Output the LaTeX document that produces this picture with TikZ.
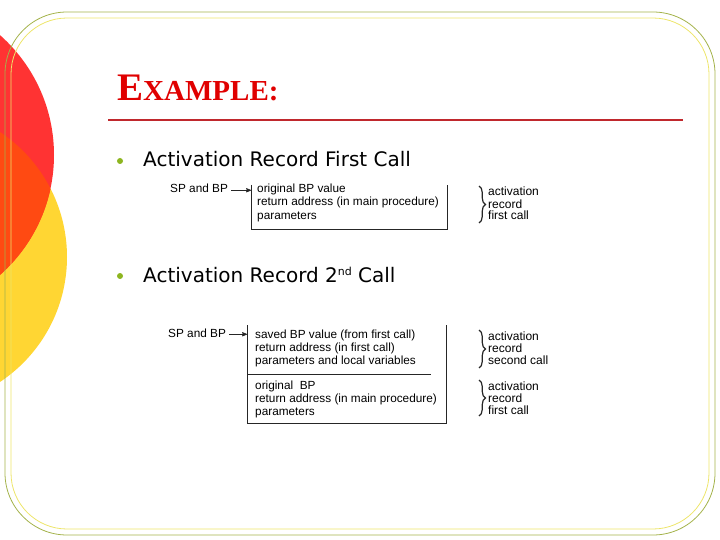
\documentclass[tikz,border=0pt]{standalone}
\usepackage{fontspec}
\setmainfont{DejaVu Sans}
\newfontfamily\titlefont{Liberation Serif}
\newfontfamily\figfont{Liberation Sans}
\usetikzlibrary{arrows,positioning,decorations.pathreplacing}

\definecolor{discred}{HTML}{FF3333}
\definecolor{discyellow}{HTML}{FFD633}
\definecolor{discorange}{HTML}{FF4A12}
\definecolor{titlered}{HTML}{E00000}
\definecolor{rulered}{HTML}{C0282D}
\definecolor{framegreen}{HTML}{A3B24A}
\definecolor{frameyellow}{HTML}{EDE56A}
\definecolor{bulletgreen}{HTML}{8DB520}

\begin{document}
\begin{tikzpicture}[x=1pt,y=-1pt,>=stealth',auto,
  bullet/.style={circle,fill=bulletgreen,inner sep=0pt,minimum size=6pt},
  item/.style={anchor=base west,inner sep=0pt,font=\fontsize{20}{24}\selectfont},
  stackline/.style={anchor=base west,inner sep=0pt,font=\figfont\fontsize{11.8}{13}\selectfont},
  reclabel/.style={anchor=base west,inner sep=0pt,font=\figfont\fontsize{12}{13}\selectfont},
  recbox/.style={line width=0.8pt,black!85},
  recbrace/.style={decorate,decoration={brace,amplitude=6.5pt},line width=1.2pt,black!85}]
  \useasboundingbox (0,0) rectangle (720,540);
  \clip (0,0) rectangle (720,540);

  % discs on the left
  \fill[discyellow] (-83,257) circle (150);
  \fill[discred] (-106,155) circle (160);
  \begin{scope}
    \clip (-83,257) circle (150);
    \fill[discorange] (-106,155) circle (160);
  \end{scope}

  % frame
  \draw[framegreen,line width=0.8pt,rounded corners=62] (5,12) rectangle (715,535);
  \draw[frameyellow,line width=0.8pt,rounded corners=56] (11,18) rectangle (709,529);

  % title
  \node[anchor=base west,inner sep=0pt,text=titlered] (title) at (117,101)
    {\titlefont\bfseries\fontsize{39}{40}\selectfont E\fontsize{29}{30}\selectfont XAMPLE:};
  \draw[rulered,line width=2pt] (108,120) -- (683,120);

  % bullets
  \node[bullet] (b1) at (120,161) {};
  \node[item] (i1) at (143,167) {Activation Record First Call};
  \node[bullet] (b2) at (120,276) {};
  \node[item] (i2) at (143,282) {Activation Record 2\raisebox{7pt}{\fontsize{11}{12}\selectfont nd} Call};

  % first call
  \coordinate (f1tl) at (251,185);
  \coordinate (f1bl) at (251,229);
  \coordinate (f1br) at (447,229);
  \coordinate (f1tr) at (447,185);
  \draw[recbox] (f1tl) -- (f1bl) -- (f1br) -- (f1tr);
  \node[stackline] (sp1) at (170,193) {SP and BP};
  \draw[->,recbox] (sp1.mid east) ++(3,0) -- (sp1.mid east -| f1tl);
  \foreach \txt [count=\i] in {original BP value,return address (in main procedure),parameters}
    \node[stackline] (f1l\i) at (257,{180+13*\i}) {\txt};
  \coordinate (f1bt) at (479,186);
  \coordinate (f1bb) at (479,223);
  \draw[recbrace] (f1bt) -- (f1bb);
  \foreach \txt [count=\i] in {activation,record,first call}
    \node[reclabel] (f1r\i) at (488,{184+12*\i}) {\txt};

  % second call
  \coordinate (s2tl) at (247,325);
  \coordinate (s2bl) at (247,423);
  \coordinate (s2br) at (446,423);
  \coordinate (s2tr) at (446,325);
  \coordinate (s2sep) at (431,374);
  \draw[recbox] (s2tl) -- (s2bl) -- (s2br) -- (s2tr);
  \draw[recbox] (s2sep -| s2tl) -- (s2sep);
  \node[stackline] (sp2) at (168,337) {SP and BP};
  \draw[->,recbox] (sp2.mid east) ++(3,0) -- (sp2.mid east -| s2tl);
  \foreach \txt [count=\i] in {saved BP value (from first call),return address (in first call),parameters and local variables}
    \node[stackline] (s2l\i) at (255,{325+13*\i}) {\txt};
  \foreach \txt [count=\i] in {original\ \ BP,return address (in main procedure),parameters}
    \node[stackline] (s1l\i) at (255,{376+13*\i}) {\txt};
  \coordinate (s2bt) at (479,330);
  \coordinate (s2bb) at (479,368);
  \coordinate (s1bt) at (479,380);
  \coordinate (s1bb) at (479,416);
  \draw[recbrace] (s2bt) -- (s2bb);
  \draw[recbrace] (s1bt) -- (s1bb);
  \foreach \txt [count=\i] in {activation,record,second call}
    \node[reclabel] (s2r\i) at (488,{328+12*\i}) {\txt};
  \foreach \txt [count=\i] in {activation,record,first call}
    \node[reclabel] (s1r\i) at (488,{378+12*\i}) {\txt};
\end{tikzpicture}
\end{document}
